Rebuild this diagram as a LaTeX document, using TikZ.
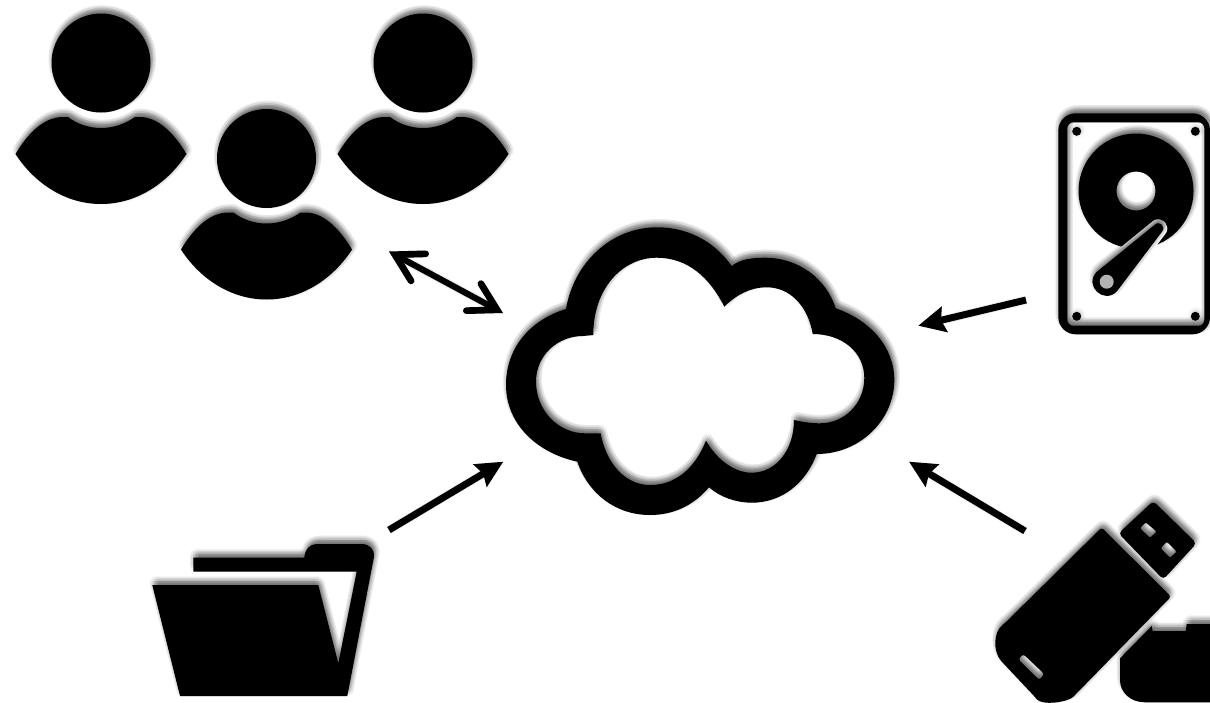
\documentclass[tikz,border=0pt]{standalone}
\usetikzlibrary{arrows.meta}
\tikzset{
  shadowlayer/.style={even odd rule,fill=black,fill opacity=0.046,draw=none,xshift=1pt,yshift=3pt},
  faintlayer/.style={even odd rule,fill=black,fill opacity=0.02,draw=none,xshift=0.6pt,yshift=0.8pt},
  iconfill/.style={even odd rule,fill=black,draw=none},
  linkshadow/.style={draw=black,opacity=0.05,yshift=-2.2pt},
  linkline/.style={draw=black,line width=5.2pt},
  oneway/.style={-{Stealth[length=20pt,width=19pt,inset=2.5pt]}},
  twoline/.style={line width=4.6pt},
  twoway/.style={{Straight Barb[length=20pt,width=23pt,line width=5pt,line cap=round,line join=miter]}-{Straight Barb[length=20pt,width=23pt,line width=5pt,line cap=round,line join=miter]}}
}
\newcommand\softicon[1]{%
  \foreach \a/\r in {0/0,0/2,60/2,120/2,180/2,240/2,300/2,0/4.5,36/4.5,72/4.5,108/4.5,144/4.5,180/4.5,216/4.5,252/4.5,288/4.5,324/4.5}{%
    \path[shadowlayer,shift={(\a:\r)}] #1;}
  \path[iconfill] #1;}
\newcommand\softdot[1]{%
  \foreach \a/\r in {0/0,0/2,60/2,120/2,180/2,240/2,300/2,0/4,45/4,90/4,135/4,180/4,225/4,270/4,315/4}{%
    \path[faintlayer,shift={(\a:\r)}] #1;}
  \path[iconfill] #1;}
\newcommand\softlink[3]{%
  \foreach \w in {9,7,5,3}{\draw[linkshadow,#1,line width=\w*0.75pt] (#2) -- (#3);}
  \draw[linkline,#1] (#2) -- (#3);}
\newcommand\person[2]{%
  \begin{scope}[shift={(#1,#2)}]
  \softicon{(0,0) circle [radius=49.5]}
  \softicon{(-85.5,91) .. controls (-73,70) and (-57,54) .. (-38,54) -- (-33,54)
    .. controls (-24,61) and (-12,65) .. (0,65) .. controls (12,65) and (24,61) .. (34,54) -- (39,54)
    .. controls (57,54) and (73,70) .. (85.5,91) .. controls (66,121) and (35,141) .. (0,141)
    .. controls (-35,141) and (-66,121) .. (-85.5,91) -- cycle}
  \end{scope}}
\begin{document}
\begin{tikzpicture}[x=0.75pt,y=-0.75pt]
\useasboundingbox (0,0) rectangle (1210,703);
\clip (0,0) rectangle (1210,703);
\fill[white] (0,0) rectangle (1210,703);
% users
\person{101}{63}
\person{423}{63}
\person{266.5}{158.5}
% cloud
\softicon{(566,309) .. controls (574,262) and (612,227.3) .. (656.7,227.3)
 .. controls (692,227.3) and (717,245) .. (731.7,266)
 .. controls (740,259) and (753,257.7) .. (765,257.7)
 .. controls (798,257.7) and (826,278) .. (835.7,308.3)
 .. controls (870,320) and (894.3,347) .. (894.3,380)
 .. controls (894.3,420) and (860,454) .. (816.7,454)
 .. controls (806,483) and (782,502.7) .. (751.7,502.7)
 .. controls (736,502.7) and (720,497) .. (709,487.3)
 .. controls (694,505) and (674,515) .. (650,515)
 .. controls (615,515) and (588,493) .. (577.3,461.7)
 .. controls (537,453) and (506,424) .. (506,385)
 .. controls (506,348) and (530,320) .. (566,309) -- cycle
 (593.3,335) .. controls (593,289) and (622,257.7) .. (656.7,257.7)
 .. controls (688,257.7) and (710,278) .. (724.3,306.7)
 .. controls (736,295) and (750,287.3) .. (766.7,287.3)
 .. controls (790,287.3) and (808,306) .. (812.7,334)
 .. controls (842,334) and (864.3,352) .. (864.3,378)
 .. controls (864.3,404) and (844,423.3) .. (820,423.3)
 .. controls (811,423.3) and (803,422) .. (794,420)
 .. controls (794,450) and (776,472.7) .. (751.7,472.7)
 .. controls (733,472.7) and (716,458) .. (706,440.7)
 .. controls (695,468) and (676,485) .. (650,485)
 .. controls (625,485) and (606,463) .. (600.7,433.3)
 .. controls (596,433.3) and (590,433.3) .. (585,433.3)
 .. controls (558,433.3) and (536,410) .. (536,381.7)
 .. controls (536,355) and (558,336) .. (583,336) -- cycle}
% hard disk
\softicon{[rounded corners=13pt] (1058.3,113.3) rectangle (1210,334.3)
  [rounded corners=4.5pt] (1067.3,122.3) rectangle (1204.3,325.7)}
\softdot{(1076.7,131.3) circle [radius=4.5]}
\softdot{(1195.3,131.3) circle [radius=4.5]}
\softdot{(1076.7,316.3) circle [radius=4.5]}
\softdot{(1195.3,316.3) circle [radius=4.5]}
\softicon{(1136,191) circle [radius=57.5] (1136,191) circle [radius=19.5]}
\path[fill=white,draw=white,line width=6pt,line join=round]
  (1096.6,272) -- (1154.7,224.8) .. controls (1159.3,220) and (1166.5,227) .. (1161.9,231.8)
  -- (1116.8,291.4) .. controls (1103.8,304.8) and (1083.6,285.4) .. (1096.6,272) -- cycle;
\softicon{(1096.6,272) -- (1154.7,224.8) .. controls (1159.3,220) and (1166.5,227) .. (1161.9,231.8)
  -- (1116.8,291.4) .. controls (1103.8,304.8) and (1083.6,285.4) .. (1096.6,272) -- cycle}
\fill[black!30] (1106.7,281.7) circle [radius=7];
% usb stick
\softicon{[rounded corners=2pt] (1101.7,527.5) -- (1171,596.7) -- (1075,695)
  .. controls (1068,702) and (1042,706) .. (1035,697) -- (1003,663)
  .. controls (993,652) and (993,632) .. (1005,623) -- cycle
  (1023.3,654) -- (1044.3,674) -- (1039.3,680) -- (1018.3,659.3) -- cycle}
\softicon{[rounded corners=3pt] (1153.3,501) -- (1196.5,543.3) -- (1163.3,579.5) -- (1118.5,533.3) -- cycle
  [rounded corners=1pt] (1145.7,522.3) -- (1156.7,531.7) -- (1150,537.7) -- (1140,528.3) -- cycle
  (1166.7,541.7) -- (1176.7,551.7) -- (1170,557.7) -- (1160.7,548.3) -- cycle}
\softicon{(1151.7,626) -- (1152.7,631) -- (1185.7,631) -- (1186.7,624) -- (1215,624) -- (1215,702.3)
  -- (1145,702.3) .. controls (1130,702.3) and (1120,692) .. (1120,680) -- (1120,658.3) -- cycle}
% folder
\softicon{(152.3,585) -- (318.3,585) -- (338.3,663.3) -- (356.7,571.7) -- (193.3,571.7) -- (193.3,557.7)
  -- (304.3,557.7) .. controls (305,549) and (310,544) .. (316.7,544) -- (361.7,544)
  .. controls (370,544) and (375,550) .. (374,556.7) -- (347.3,696) -- (180,696) -- cycle}
% connectors
\coordinate (usersEnd) at (389,251.5);
\coordinate (cloudNW) at (503,313);
\coordinate (diskEnd) at (1026,300);
\coordinate (cloudNE) at (918.3,325.7);
\coordinate (usbEnd) at (1025,531);
\coordinate (cloudSE) at (909,461.7);
\coordinate (folderEnd) at (389,530);
\coordinate (cloudSW) at (503.3,461.7);
\softlink{twoway,twoline}{usersEnd}{cloudNW}
\softlink{oneway}{diskEnd}{cloudNE}
\softlink{oneway}{usbEnd}{cloudSE}
\softlink{oneway}{folderEnd}{cloudSW}
\end{tikzpicture}
\end{document}
